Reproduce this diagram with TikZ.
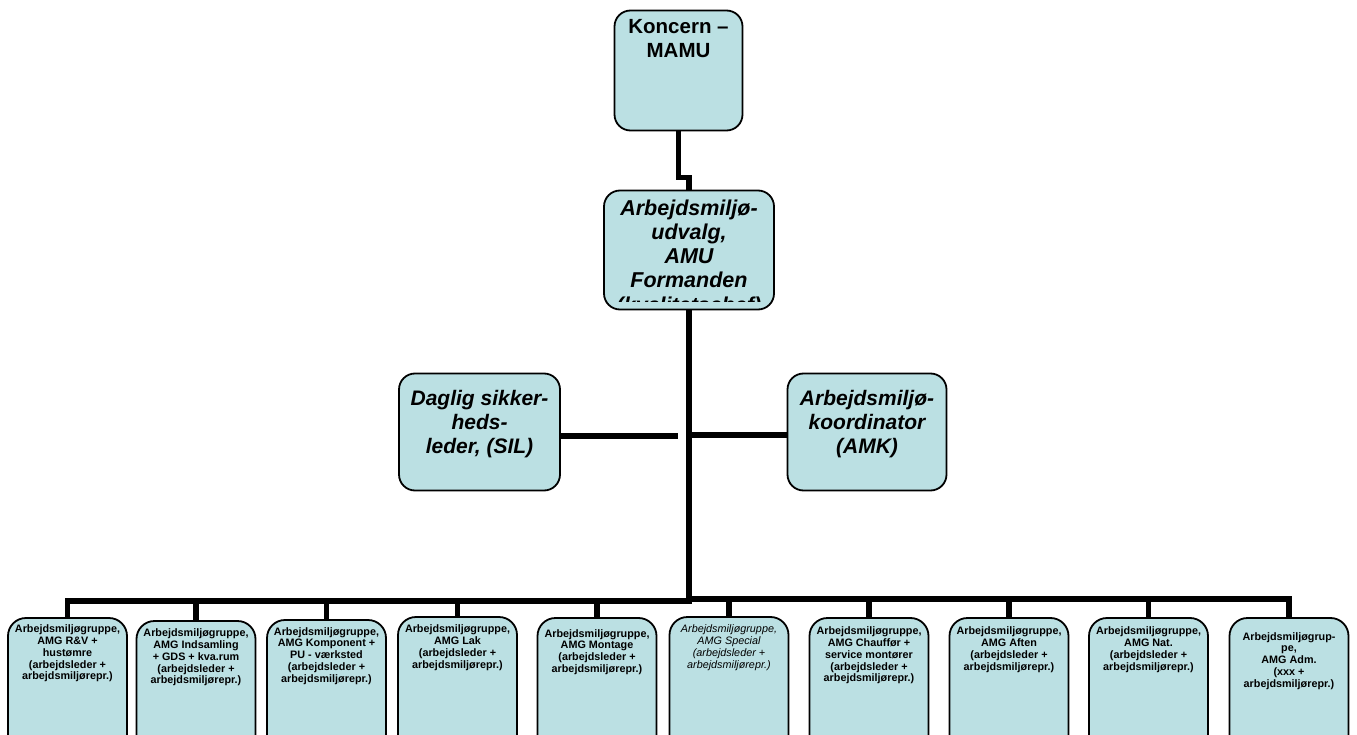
\documentclass[tikz,border=0pt]{standalone}
\usepackage{fontspec}
\setmainfont{Liberation Sans}
\definecolor{boxfill}{RGB}{187,224,227}
\tikzset{
  unit/.style={draw=black, line width=1.8pt, fill=boxfill, rounded corners=16pt, inner sep=0pt},
  group/.style={unit, rounded corners=18pt, minimum width=119pt, minimum height=170pt},
  link/.style={line width=5.5pt, black, line join=miter},
  toptxt/.style={anchor=north, inner sep=0pt, align=center},
  headtxt/.style={toptxt, font=\bfseries\fontsize{20.5}{24}\selectfont},
  amutxt/.style={toptxt, font=\bfseries\itshape\fontsize{21.5}{24.2}\selectfont},
  sidetxt/.style={toptxt, font=\bfseries\itshape\fontsize{21}{24}\selectfont},
  grptxt/.style={toptxt, font=\bfseries\fontsize{10.8}{11.8}\selectfont},
  grptxtit/.style={toptxt, font=\itshape\fontsize{10.8}{11.8}\selectfont},
}
\begin{document}
\begin{tikzpicture}[x=1pt,y=-1pt]
\fill[white] (0,0) rectangle (1357,735);
\clip (0,0) rectangle (1357,735);

% top level
\node[unit, minimum width=128pt, minimum height=120pt] (kon) at (678.5,70.5) {};
\node[headtxt] (kontxt) at ([yshift=-10pt]kon.north) {Koncern –\\MAMU};

% committee box with its text cut off at the bottom edge
\node[unit, minimum width=170pt, minimum height=119pt] (amu) at (689,250) {};
\begin{scope}
  \clip ([xshift=2pt,yshift=9pt]amu.south west) rectangle ([xshift=-2pt]amu.north east);
  \node[amutxt] (amut) at ([yshift=-10pt]amu.north) {Arbejdsmiljø-\\udvalg,\\AMU\\Formanden\\(kvalitetschef)};
\end{scope}

% staff functions
\node[unit, minimum width=161pt, minimum height=117pt] (sil) at (479.5,432) {};
\node[sidetxt] (silt) at ([yshift=-17pt]sil.north) {Daglig sikker-\\heds-\\leder, (SIL)};
\node[unit, minimum width=159pt, minimum height=117pt] (amk) at (867,432) {};
\node[sidetxt] (amkt) at ([yshift=-17pt]amk.north) {Arbejdsmiljø-\\koordinator\\(AMK)};

% working environment groups
\node[group] (g1) at (67.5,703) {};
\node[grptxt] (g1t) at ([yshift=-7.5pt]g1.north) {Arbejdsmiljøgruppe,\\AMG R\&V +\\hustømre\\(arbejdsleder +\\arbejdsmiljørepr.)};
\node[group] (g2) at (196,706) {};
\node[grptxt] (g2t) at ([yshift=-8.5pt]g2.north) {Arbejdsmiljøgruppe,\\AMG Indsamling\\+ GDS + kva.rum\\(arbejdsleder +\\arbejdsmiljørepr.)};
\node[group] (g3) at (326.5,705) {};
\node[grptxt] (g3t) at ([yshift=-8pt]g3.north) {Arbejdsmiljøgruppe,\\AMG Komponent +\\PU - værksted\\(arbejdsleder +\\arbejdsmiljørepr.)};
\node[group] (g4) at (457.5,702) {};
\node[grptxt] (g4t) at ([yshift=-8.5pt]g4.north) {Arbejdsmiljøgruppe,\\AMG Lak\\(arbejdsleder +\\arbejdsmiljørepr.)};
\node[group] (g5) at (597,703) {};
\node[grptxt] (g5t) at ([yshift=-12pt]g5.north) {Arbejdsmiljøgruppe,\\AMG Montage\\(arbejdsleder +\\arbejdsmiljørepr.)};
\node[group] (g6) at (729,702) {};
\node[grptxtit] (g6t) at ([yshift=-8.5pt]g6.north) {Arbejdsmiljøgruppe,\\AMG Special\\(arbejdsleder +\\arbejdsmiljørepr.)};
\node[group] (g7) at (869,703) {};
\node[grptxt] (g7t) at ([yshift=-9.5pt]g7.north) {Arbejdsmiljøgruppe,\\AMG Chauffør +\\service montører\\(arbejdsleder +\\arbejdsmiljørepr.)};
\node[group] (g8) at (1009,703) {};
\node[grptxt] (g8t) at ([yshift=-9.5pt]g8.north) {Arbejdsmiljøgruppe,\\AMG Aften\\(arbejdsleder +\\arbejdsmiljørepr.)};
\node[group] (g9) at (1148.5,703) {};
\node[grptxt] (g9t) at ([yshift=-9.5pt]g9.north) {Arbejdsmiljøgruppe,\\AMG Nat.\\(arbejdsleder +\\arbejdsmiljørepr.)};
\node[group] (g10) at (1289,703) {};
\node[grptxt] (g10t) at ([yshift=-15pt]g10.north) {Arbejdsmiljøgrup-\\pe,\\AMG Adm.\\(xxx +\\arbejdsmiljørepr.)};

% connectors
\draw[link] (kon.south) -- ++(0,46) -| (amu.north);
\coordinate (trunkend) at (689,604);
\draw[link] (amu.south) -- (trunkend);
\coordinate (silend) at (678,436);
\draw[link] (silend -| sil.east) -- (silend);
\coordinate (amkstart) at (689,435);
\draw[link] (amkstart) -- (amkstart -| amk.west);
\coordinate (busL) at (689,601);
\coordinate (busR) at (689,599);
\foreach \i in {1,...,5} \draw[link] (busL) -| (g\i.north);
\foreach \i in {6,...,10} \draw[link] (busR) -| (g\i.north);
\end{tikzpicture}
\end{document}
